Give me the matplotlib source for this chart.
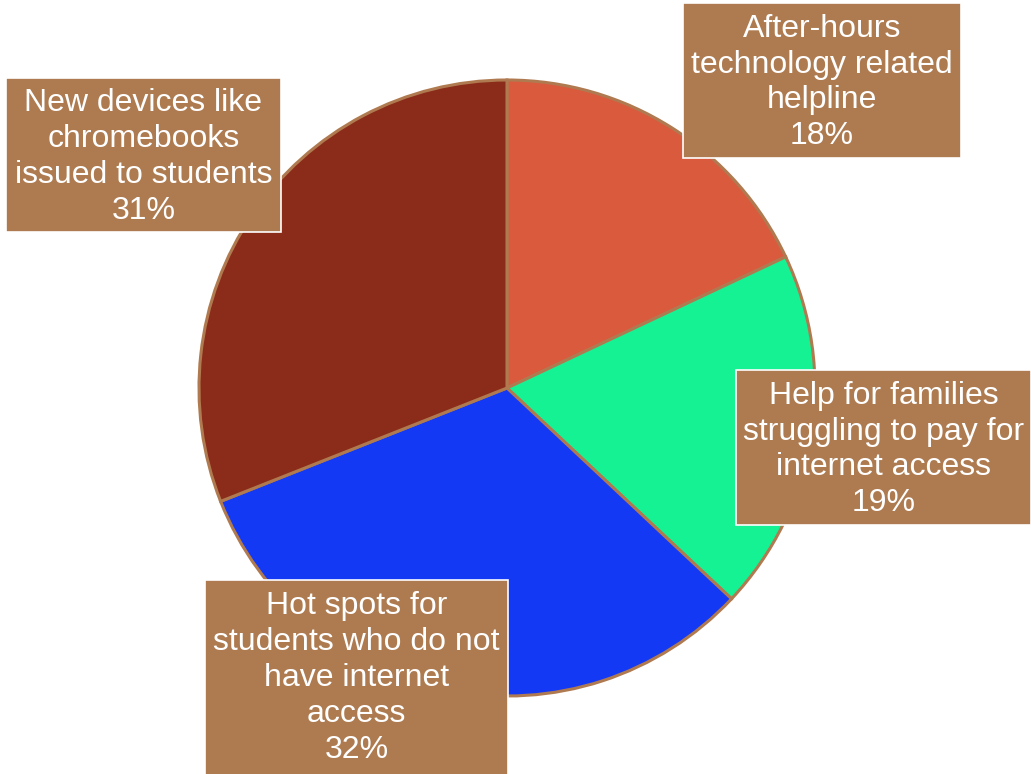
import matplotlib
matplotlib.use("Agg")
import matplotlib.pyplot as plt
from matplotlib.patches import Rectangle

# data
labels = ["After-hours\ntechnology related\nhelpline",
          "Help for families\nstruggling to pay for\ninternet access",
          "Hot spots for\nstudents who do not\nhave internet\naccess",
          "New devices like\nchromebooks\nissued to students"]
shares = [18, 19, 32, 31]
colors = ["#DA5A3E", "#14F294", "#1439F5", "#8B2B1A"]

# label box layout in pixels (left, top, right, bottom)
boxes = [(683, 3, 961, 158),
         (736, 370, 1031, 525),
         (205, 580, 508, 780),
         (6, 78, 281, 232)]

W, H = 1031, 774
plt.rcParams['font.family'] = ['Liberation Sans', 'DejaVu Sans']

fig = plt.figure(figsize=(W / 100, H / 100), dpi=100)
ax = fig.add_axes([0, 0, 1, 1])
ax.set_xlim(0, W)
ax.set_ylim(0, H)
ax.set_aspect("equal")
ax.axis("off")

ax.pie(shares, colors=colors, startangle=90, counterclock=False,
       center=(507, H - 388), radius=308, frame=True,
       wedgeprops=dict(edgecolor="#B07A50", linewidth=2.2))
ax.set_xlim(0, W)
ax.set_ylim(0, H)
ax.axis("off")

#label boxes with text
for lab, val, (l, t, r, b) in zip(labels, shares, boxes):
    ax.add_patch(Rectangle((l, H - b), r - l, b - t, facecolor="#AE7B50",
                           edgecolor="white", linewidth=1.2, zorder=5))
    ymid = H - (t + b) / 2 - 2 if b < H else H - 678
    ax.text((l + r) / 2, ymid,
            lab + "\n" + str(val) + "%", ha="center", va="center",
            color="white", fontsize=23, linespacing=1.26, zorder=6)

fig.savefig("out.png", dpi=100)
